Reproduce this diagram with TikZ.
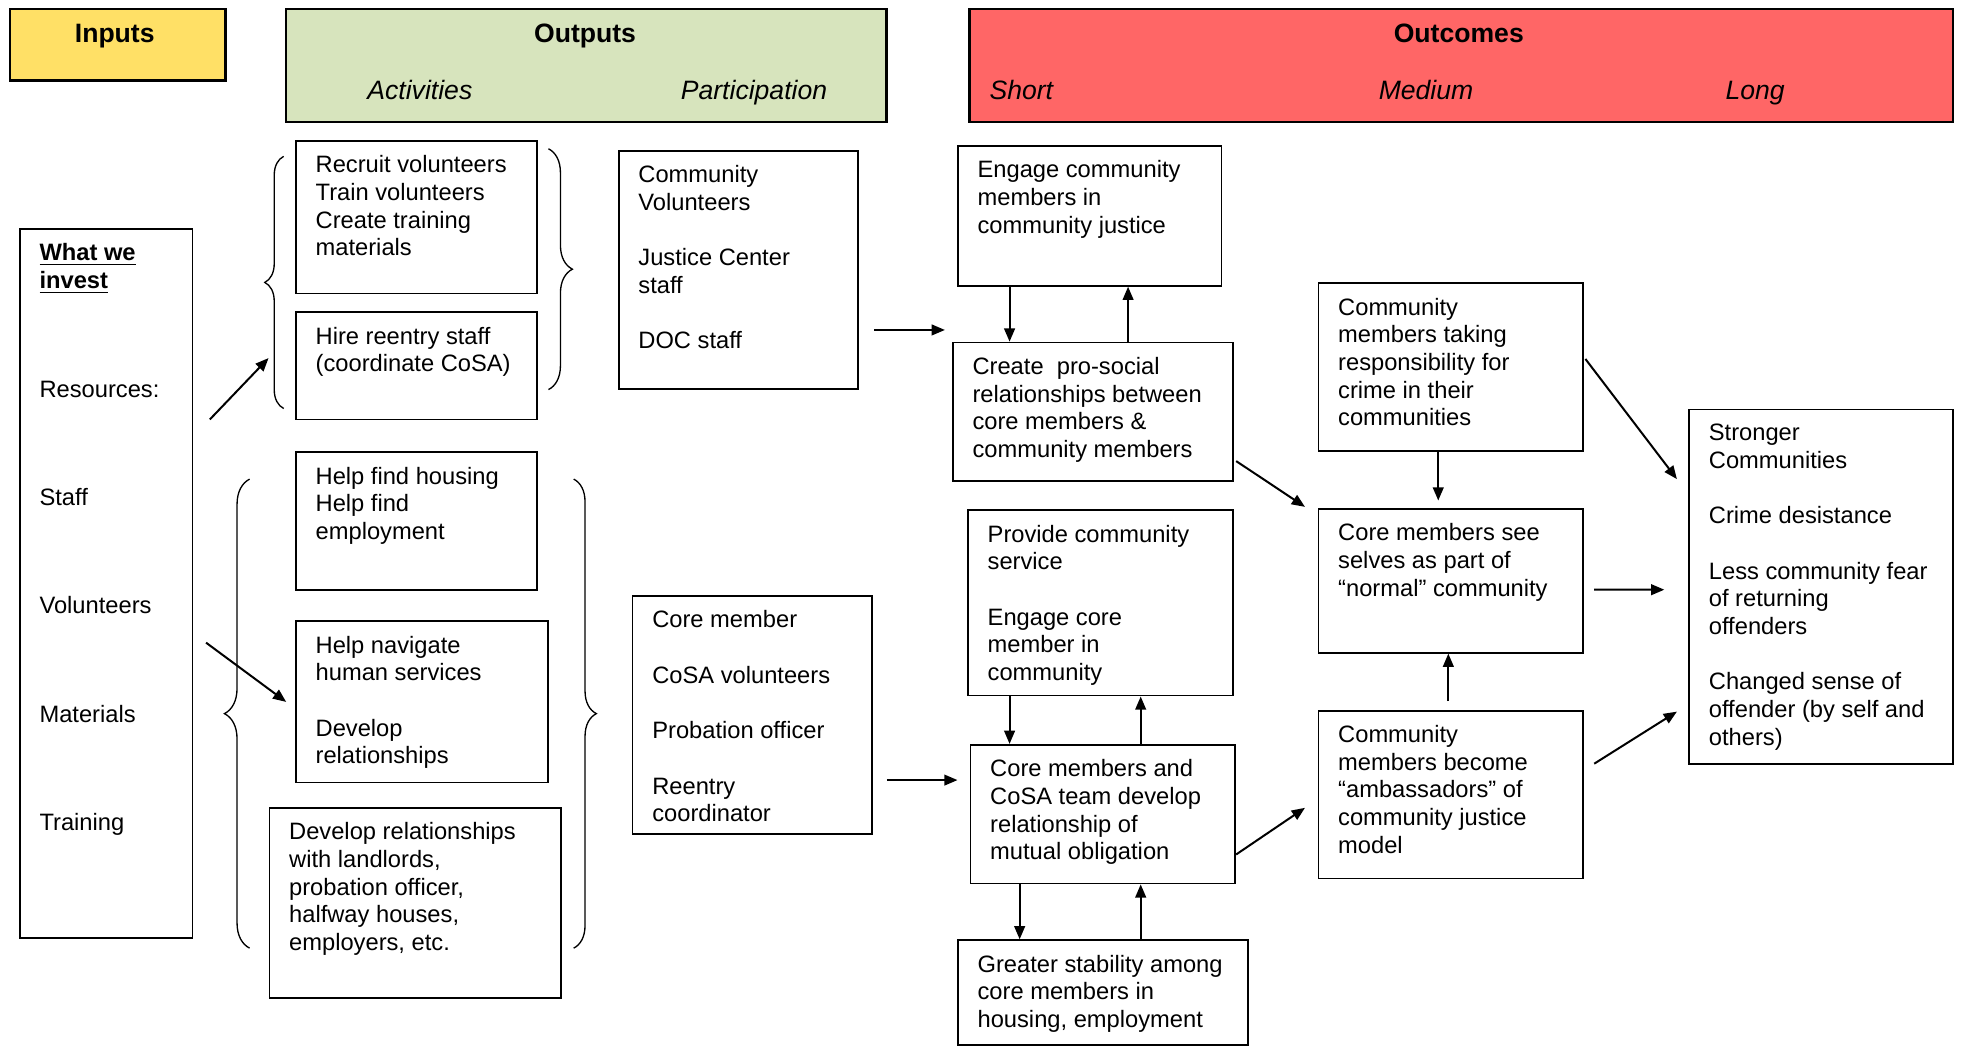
\documentclass[tikz,border=0pt]{standalone}
\usepackage{fontspec}
\setmainfont{Liberation Sans}
\usetikzlibrary{arrows.meta,decorations.pathreplacing,positioning}
\definecolor{inyellow}{HTML}{FFE066}
\definecolor{outgreen}{HTML}{D7E4BD}
\definecolor{outcred}{HTML}{FF6666}
\begin{document}
\begin{tikzpicture}[
    x=0.02cm, y=-0.02cm,
    >={Triangle[length=2.1mm,width=1.7mm]},
    box/.style={draw, line width=0.8pt, anchor=north west, inner sep=0pt},
    sz/.style 2 args={minimum width=#1*0.02cm, minimum height=#2*0.02cm},
    txt/.style={anchor=north west, inner sep=0pt, align=left, xshift=0.32cm, yshift=-0.24cm,
                font=\fontsize{10.7}{12.5}\selectfont},
    head/.style={draw, line width=1.1pt, anchor=north west, inner sep=0pt},
    htitle/.style={font=\fontsize{12}{14}\selectfont\bfseries, text height=1.45ex, text depth=0pt},
    hsub/.style={font=\fontsize{12}{14}\selectfont\itshape, text height=1.45ex, text depth=0pt},
    arr/.style={->, line width=0.9pt},
    brc/.style={decorate, decoration={brace, amplitude=#1}, line width=0.6pt}
  ]
  \useasboundingbox (0,0) rectangle (1568,830);

  %% Header bars
  \node[head, fill=inyellow, sz={171}{57}] (inputs) at (7,6) {};
  \node[head, fill=outgreen, sz={476}{90}] (outputs) at (226,6) {};
  \node[head, fill=outcred, sz={780}{90}] (outcomes) at (768,6) {};
  \node[htitle] (inputs-t)   at (91,27)   {Inputs};
  \node[htitle] (outputs-t)  at (464,27)  {Outputs};
  \node[hsub]   (activ-t)    at (333,72)  {Activities};
  \node[hsub]   (partic-t)   at (598,72)  {Participation};
  \node[htitle] (outcomes-t) at (1157,27) {Outcomes};
  \node[hsub]   (short-t)    at (810,72)  {Short};
  \node[hsub]   (medium-t)   at (1131,72) {Medium};
  \node[hsub]   (long-t)     at (1392,72) {Long};

  %% Inputs
  \node[box, sz={137}{562}, label={[txt]north west:{\textbf{\underline{What we}}\\\textbf{\underline{invest}}\\[1.28cm]Resources:\\[1.28cm]Staff\\[1.28cm]Volunteers\\[1.28cm]Materials\\[1.28cm]Training}}] (invest) at (15,181) {};

  %% Activities
  \node[box, sz={191}{121}, label={[txt]north west:{Recruit volunteers\\Train volunteers\\Create training\\materials}}] (recruit) at (234,111) {};
  \node[box, sz={191}{85}, label={[txt]north west:{Hire reentry staff\\(coordinate CoSA)}}] (hire) at (234,247) {};
  \node[box, sz={191}{109}, label={[txt]north west:{Help find housing\\Help find\\employment}}] (housing) at (234,358) {};
  \node[box, sz={200}{128}, label={[txt]north west:{Help navigate\\human services\\[12.5pt]Develop\\relationships}}] (navigate) at (234,492) {};
  \node[box, sz={231}{151}, label={[txt]north west:{Develop relationships\\with landlords,\\probation officer,\\halfway houses,\\employers, etc.}}] (landlords) at (213,640) {};

  %% Braces round the activities
  \draw[brc=0.3cm]  (225,324) -- (225,124);
  \draw[brc=0.38cm] (435,118) -- (435,309);
  \draw[brc=0.4cm]  (198,752) -- (198,380);
  \draw[brc=0.36cm] (455,380) -- (455,752);

  %% Participation
  \node[box, sz={190}{189}, label={[txt]north west:{Community\\Volunteers\\[12.5pt]Justice Center\\staff\\[12.5pt]DOC staff}}] (volun) at (490,119) {};
  \node[box, sz={190}{189}, label={[txt]north west:{Core member\\[12.5pt]CoSA volunteers\\[12.5pt]Probation officer\\[12.5pt]Reentry\\coordinator}}] (corepart) at (501,472) {};

  %% Short outcomes
  \node[box, sz={209}{111}, label={[txt]north west:{Engage community\\members in\\community justice}}] (engage) at (759,115) {};
  \node[box, sz={222}{110}, label={[txt]north west:{Create\ \ pro-social\\relationships between\\core members \&\\community members}}] (create) at (755,271) {};
  \node[box, sz={210}{147}, label={[txt]north west:{Provide community\\service\\[12.5pt]Engage core\\member in\\community}}] (provide) at (767,404) {};
  \node[box, sz={210}{110}, label={[txt]north west:{Core members and\\CoSA team develop\\relationship of\\mutual obligation}}] (cosa) at (769,590) {};
  \node[box, sz={230}{83}, label={[txt]north west:{Greater stability among\\core members in\\housing, employment}}] (stability) at (759,745) {};

  %% Medium outcomes
  \node[box, sz={210}{133}, label={[txt]north west:{Community\\members taking\\responsibility for\\crime in their\\communities}}] (taking) at (1045,224) {};
  \node[box, sz={210}{114}, label={[txt]north west:{Core members see\\selves as part of\\“normal” community}}] (see) at (1045,403) {};
  \node[box, sz={210}{133}, label={[txt]north west:{Community\\members become\\“ambassadors” of\\community justice\\model}}] (become) at (1045,563) {};

  %% Long outcomes
  \node[box, sz={209}{281}, label={[txt]north west:{Stronger\\Communities\\[12.5pt]Crime desistance\\[12.5pt]Less community fear\\of returning\\offenders\\[12.5pt]Changed sense of\\offender (by self and\\others)}}] (stronger) at (1339,324) {};

  %% Arrows
  \coordinate (upbrace) at (213,284);
  \draw[arr] ([shift={(13,-130)}]invest.east) -- (upbrace);
  \draw[arr] ([shift={(10,47)}]invest.east) -- ([shift={(-7,0)}]navigate.west);
  \draw[arr] ([shift={(12,47.5)}]volun.east) -- ++(56,0);
  \draw[arr] ([shift={(11,51.5)}]corepart.east) -- ++(56,0);

  \draw[arr] ([shift={(-63.5,0)}]engage.south) -- ([shift={(-63.5,0)}]engage.south |- create.north);
  \draw[arr] ([shift={(28,0)}]create.north) -- ([shift={(28,0)}]create.north |- engage.south);
  \draw[arr] ([shift={(-72,0)}]provide.south) -- ([shift={(-72,0)}]provide.south |- cosa.north);
  \draw[arr] ([shift={(30,0)}]cosa.north) -- ([shift={(30,0)}]cosa.north |- provide.south);
  \draw[arr] ([shift={(-66,0)}]cosa.south) -- ([shift={(-66,0)}]cosa.south |- stability.north);
  \draw[arr] ([shift={(30,0)}]stability.north) -- ([shift={(30,0)}]stability.north |- cosa.south);

  \draw[arr] ([shift={(2,39)}]create.east) -- ([shift={(-10,-1)}]see.north west);
  \draw[arr] ([shift={(0,32)}]cosa.east) -- ([shift={(-10,10.5)}]become.west);
  \draw[arr] ([shift={(-10,0)}]taking.south) -- ([shift={(-10,-6)}]taking.south |- see.north);
  \draw[arr] ([shift={(-2,-7)}]become.north) -- ([shift={(-2,0)}]become.north |- see.south);

  \draw[arr] ([shift={(1,-6.5)}]taking.east) -- ([shift={(-9,56)}]stronger.north west);
  \draw[arr] ([shift={(8,7)}]see.east) -- ([shift={(-19,2.5)}]stronger.west);
  \draw[arr] ([shift={(8,-24.5)}]become.east) -- ([shift={(-9,-42)}]stronger.south west);

\end{tikzpicture}
\end{document}
